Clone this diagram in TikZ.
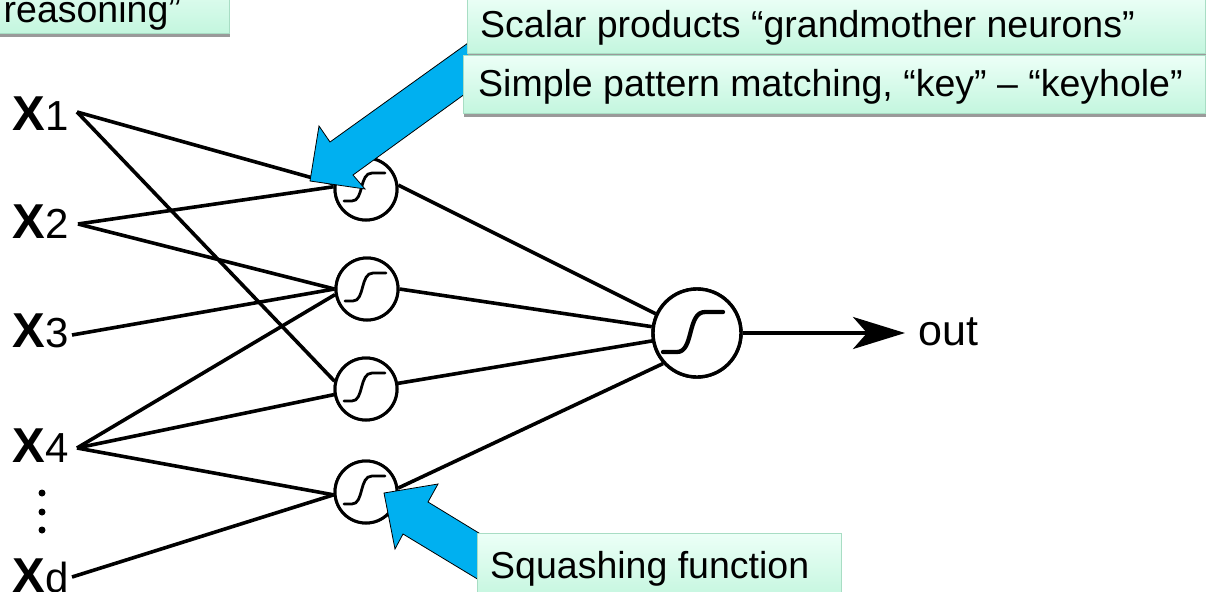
\documentclass[tikz,border=0pt]{standalone}
\usepackage{fontspec}
\setmainfont{Liberation Sans}
\usetikzlibrary{arrows.meta,shadows}
\definecolor{boxtop}{HTML}{ECFFF7}
\definecolor{boxbot}{HTML}{C3F6DE}
\definecolor{boxborder}{HTML}{A8DDC4}
\definecolor{shadowgray}{HTML}{9A9A9A}
\definecolor{callout}{HTML}{00B0F0}
\tikzset{
  box/.style={draw=boxborder, line width=1pt, top color=boxtop, bottom color=boxbot,
    drop shadow={shadow xshift=0pt, shadow yshift=-3.5pt, opacity=1, fill=shadowgray},
    rectangle, inner sep=0pt, anchor=north west},
  boxtext/.style={anchor=base west, inner sep=0pt, font=\fontsize{37.5}{40}\selectfont},
  xl/.style={anchor=base west, inner sep=0pt, font=\fontsize{49}{49}\selectfont\bfseries},
  neuron/.style={circle, draw, fill=white, line width=3pt, minimum size=62pt, inner sep=0pt},
  outneuron/.style={circle, draw, fill=white, line width=3.4pt, minimum size=88pt, inner sep=0pt},
  wire/.style={line width=3.6pt},
  calloutarrow/.style={fill=callout, draw=black, line width=0.8pt, line join=miter},
  sigsmall/.pic={\draw[line width=2.8pt, line cap=round] (-22,12) -- (-14,12) .. controls (-2,12) and (-7,-16) .. (6,-16) -- (19,-16);},
  sigbig/.pic={\draw[line width=4.3pt, line cap=round] (-34,19) -- (-20,19) .. controls (-3,19) and (-10,-21) .. (8,-21) -- (26,-21);},
}
\begin{document}
\begin{tikzpicture}[x=1pt,y=-1pt]
\useasboundingbox (0,0) rectangle (1206,591);
\clip (0,0) rectangle (1206,591);

% input labels
\node[xl] (x1) at (12,130) {X{\mdseries\fontsize{42}{42}\selectfont\kern1pt 1}};
\node[xl] (x2) at (12,238) {X{\mdseries\fontsize{42}{42}\selectfont\kern1pt 2}};
\node[xl] (x3) at (12,347) {X{\mdseries\fontsize{42}{42}\selectfont\kern1pt 3}};
\node[xl] (x4) at (12,462) {X{\mdseries\fontsize{42}{42}\selectfont\kern1pt 4}};
\node[xl] (xd) at (12,592) {X{\mdseries\fontsize{42}{42}\selectfont\kern1pt d}};
\fill (42,493) circle (3.5) (42,512) circle (3.5) (42,530) circle (3.5);

\coordinate (p1) at (77,112);
\coordinate (p2) at (78,224);
\coordinate (p3) at (72,335);
\coordinate (p4) at (77,448);
\coordinate (pd) at (72,577);

% neurons
\node[neuron] (n1) at (366,189) {};
\node[neuron] (n2) at (367,289) {};
\node[neuron] (n3) at (366,389) {};
\node[neuron] (n4) at (366,492) {};
\node[outneuron] (out) at (697,333) {};

% connectors
\draw[wire] (p1) -- (n1.171);
\draw[wire] (p1) -- (n3.166);
\draw[wire] (p2) -- (n1.176);
\draw[wire] (p2) -- (n2.180);
\draw[wire] (p3) -- (n2.180);
\draw[wire] (p4) -- (n2.190);
\draw[wire] (p4) -- (n3.190);
\draw[wire] (p4) -- (n4.185);
\draw[wire] (pd) -- (n4.185);
\draw[wire] (n1.7) -- (out.155);
\draw[wire] (n2.east) -- (out.172);
\draw[wire] (n3.10) -- (out.190);
\draw[wire] (n4.7) -- (out.222);

% redraw neurons on top of wires
\node[neuron] at (n1) {};
\node[neuron] at (n2) {};
\node[neuron] at (n3) {};
\node[neuron] at (n4) {};
\node[outneuron] at (out) {};
\pic at (n1) {sigsmall};
\pic at (n2) {sigsmall};
\pic at (n3) {sigsmall};
\pic at (n4) {sigsmall};
\pic at (out) {sigbig};

% output
\node[anchor=base west, inner sep=0pt, font=\fontsize{43}{43}\selectfont] (outlbl) at (918,345) {out};
\coordinate (tip) at (905,333);
\draw[line width=3.6pt, -{Stealth[length=52pt, width=32pt, inset=14pt]}] (out.east) -- (tip);

% callout arrows
\draw[calloutarrow] (310,181) -- (319,126) -- (330,142) -- (475,38) -- (498,70) -- (353,175) -- (365,189) -- cycle;
\draw[calloutarrow] (384,493) -- (395,549) -- (403,534) -- (489,586) -- (510,552) -- (428,502) -- (438,484) -- cycle;

% text boxes
\node[box, minimum width=234pt, minimum height=63pt] (b0) at (-5,-30) {};
\node[boxtext] (t0) at (3.5,23) {reasoning”};
\node[box, minimum width=738pt, minimum height=58pt] (b1) at (467,-5) {};
\node[boxtext] (t1) at (480,38) {Scalar products “grandmother neurons”};
\node[box, minimum width=742pt, minimum height=58pt] (b2) at (463,55) {};
\node[boxtext] (t2) at (478,97) {Simple pattern matching, “key” – “keyhole”};
\node[box, minimum width=364pt, minimum height=67pt] (b3) at (477,533) {};
\node[boxtext] (t3) at (490,578) {Squashing function};
\end{tikzpicture}
\end{document}
